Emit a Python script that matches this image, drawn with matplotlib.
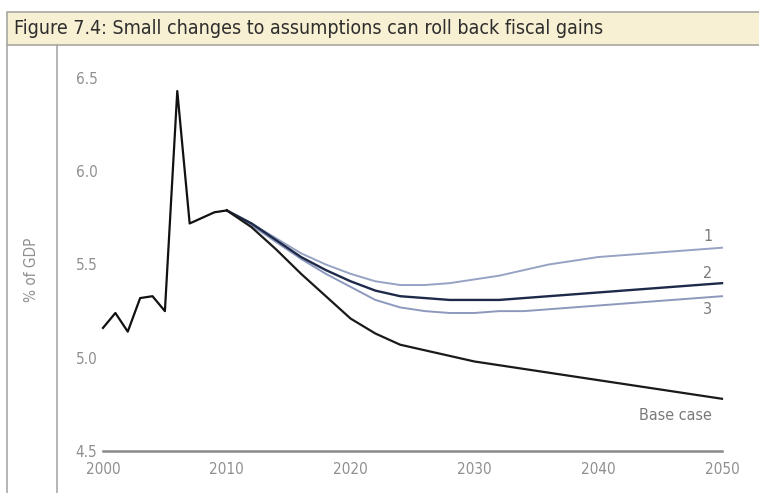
import matplotlib
matplotlib.use("Agg")
import matplotlib.pyplot as plt
from matplotlib.patches import Rectangle
from matplotlib.lines import Line2D
from matplotlib import font_manager

# ---- data ----
hist_years = [2000, 2001, 2002, 2003, 2004, 2005, 2006, 2007, 2008, 2009, 2010]
hist_vals = [5.16, 5.24, 5.14, 5.32, 5.33, 5.25, 6.43, 5.72, 5.75, 5.78, 5.79]

proj_years = [2010, 2012, 2014, 2016, 2018, 2020, 2022, 2024, 2026, 2028, 2030,
              2032, 2034, 2036, 2038, 2040, 2042, 2044, 2046, 2048, 2050]
base_case = [5.79, 5.70, 5.58, 5.45, 5.33, 5.21, 5.13, 5.07, 5.04, 5.01, 4.98,
             4.96, 4.94, 4.92, 4.90, 4.88, 4.86, 4.84, 4.82, 4.80, 4.78]
scen1 = [5.79, 5.72, 5.64, 5.56, 5.50, 5.45, 5.41, 5.39, 5.39, 5.40, 5.42,
         5.44, 5.47, 5.50, 5.52, 5.54, 5.55, 5.56, 5.57, 5.58, 5.59]
scen2 = [5.79, 5.72, 5.63, 5.54, 5.47, 5.41, 5.36, 5.33, 5.32, 5.31, 5.31,
         5.31, 5.32, 5.33, 5.34, 5.35, 5.36, 5.37, 5.38, 5.39, 5.40]
scen3 = [5.79, 5.71, 5.62, 5.53, 5.45, 5.38, 5.31, 5.27, 5.25, 5.24, 5.24,
         5.25, 5.25, 5.26, 5.27, 5.28, 5.29, 5.30, 5.31, 5.32, 5.33]

x_ticks = [2000, 2010, 2020, 2030, 2040, 2050]
y_ticks = [4.5, 5.0, 5.5, 6.0, 6.5]
title = "Figure 7.4: Small changes to assumptions can roll back fiscal gains"
y_label = "% of GDP"

# ---- font choice: prefer a narrow sans ----
_fonts = font_manager.fontManager.ttflist
_names = {f.name for f in _fonts}
stretch = "normal"
if "Liberation Sans Narrow" in _names:
    fam = "Liberation Sans Narrow"
elif any(f.name == "DejaVu Sans" and f.stretch == "condensed" for f in _fonts):
    fam = "DejaVu Sans"
    stretch = "condensed"
elif "Lato" in _names:
    fam = "Lato"
else:
    fam = "Liberation Sans"
font = [fam, "DejaVu Sans"]

# ---- figure ----
W, H = 759, 493
fig = plt.figure(figsize=(W / 100, H / 100), dpi=100)
fig.patch.set_facecolor("white")

def fx(px):
    return px / W

def fy(py):
    return 1 - py / H

# header bar
fig.patches.append(Rectangle((fx(7), fy(45)), 1 - fx(7) + 0.01, fy(12) - fy(45),
                             transform=fig.transFigure, facecolor="#f8f0d2",
                             edgecolor="#a8a8a0", linewidth=1.2))
fig.text(fx(14), fy(29), title, fontsize=14, color="#2e2e2e", family=font,
         fontstretch=stretch, va="center", ha="left")
# frame lines
fig.add_artist(Line2D([fx(7), fx(7)], [fy(45), 0], transform=fig.transFigure,
                      color="#a8a8a8", lw=1.2))
fig.add_artist(Line2D([fx(57), fx(57)], [fy(45), 0], transform=fig.transFigure,
                      color="#a8a8a8", lw=1.2))
fig.text(fx(32), fy(270), y_label, rotation=90, fontsize=11, color="#8f8f8f",
         family=font, fontstretch=stretch, va="center", ha="center")

ax = fig.add_axes([fx(103), fy(451), fx(722) - fx(103), fy(78) - fy(451)])
ax.set_facecolor("none")
ax.set_xlim(2000, 2050)
ax.set_ylim(4.5, 6.5)
for s in ["top", "right", "left"]:
    ax.spines[s].set_visible(False)
ax.spines["bottom"].set_color("#8a8a8a")
ax.spines["bottom"].set_linewidth(1.8)
ax.set_xticks(x_ticks)
ax.set_yticks(y_ticks)
ax.set_xticklabels([str(t) for t in x_ticks])
ax.set_yticklabels([f"{t:.1f}" for t in y_ticks])
ax.tick_params(axis="both", length=0, labelsize=11, labelcolor="#8f8f8f")
ax.tick_params(axis="x", pad=8)
ax.tick_params(axis="y", pad=4)
for lab in ax.get_xticklabels() + ax.get_yticklabels():
    lab.set_family(font)
    lab.set_fontstretch(stretch)

ax.plot(proj_years, scen1, color="#97a3c4", lw=1.4, clip_on=False)
ax.plot(proj_years, scen3, color="#8c99bd", lw=1.4, clip_on=False)
ax.plot(proj_years, scen2, color="#1e2a4a", lw=1.7, clip_on=False)
ax.plot(proj_years, base_case, color="#1a1a1a", lw=1.6, clip_on=False)
ax.plot(hist_years, hist_vals, color="#111111", lw=1.6, clip_on=False)

lab_kw = dict(fontsize=11.5, color="#7a7a7a", family=font, fontstretch=stretch,
              ha="right")
ax.text(2049.2, 5.61, "1", va="bottom", **lab_kw)
ax.text(2049.2, 5.41, "2", va="bottom", **lab_kw)
ax.text(2049.2, 5.30, "3", va="top", **lab_kw)
ax.text(2049.2, 4.73, "Base case", va="top", **lab_kw)

fig.savefig("out.png", dpi=100)
